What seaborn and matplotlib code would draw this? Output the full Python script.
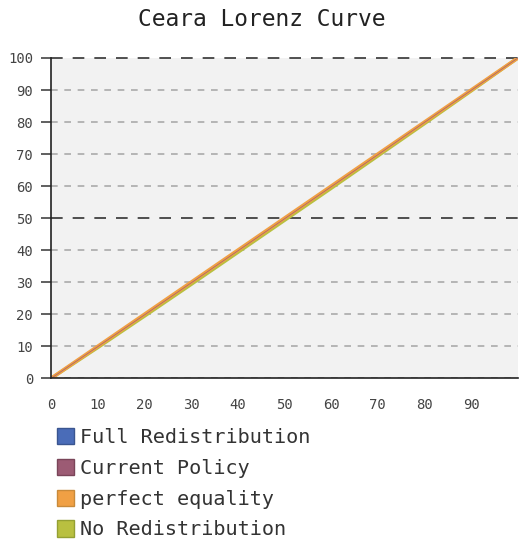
# Ceara Lorenz curve - recreated with seaborn
import pandas as pd
import matplotlib.pyplot as plt
import seaborn as sns
from matplotlib.patches import Patch

# ==========================================
# DATA
# ==========================================

population = [0, 10, 20, 30, 40, 50, 60, 70, 80, 90, 100]
full_redistribution = [0, 10, 20, 30, 40, 50, 60, 70, 80, 90, 100]
current_policy = [0, 9.9, 19.8, 29.8, 39.8, 49.8, 59.8, 69.8, 79.9, 89.9, 100]
perfect_equality = [0, 10, 20, 30, 40, 50, 60, 70, 80, 90, 100]
no_redistribution = [0, 9.6, 19.4, 29.3, 39.3, 49.3, 59.3, 69.4, 79.5, 89.7, 100]

series_names = ["Full Redistribution", "Current Policy", "perfect equality", "No Redistribution"]
series_colors = ["#4a6cb8", "#9c5b74", "#f0a044", "#b9c040"]
edge_colors = ["#3a5590", "#7a4559", "#c88a3a", "#94a033"]
y_ticks = [0, 10, 20, 30, 40, 50, 60, 70, 80, 90, 100]
x_ticks = [0, 10, 20, 30, 40, 50, 60, 70, 80, 90]

rows = []
for name, vals in zip(series_names, [full_redistribution, current_policy,
                                     perfect_equality, no_redistribution]):
    for x, y in zip(population, vals):
        rows.append({"population": x, "share": y, "series": name})
data = pd.DataFrame(rows)

# ==========================================
# PLOT
# ==========================================

sns.set_style("white")
plt.rcParams['font.family'] = ['DejaVu Sans Mono']

fig = plt.figure(figsize=(5.22, 5.42), dpi=100)
ax = fig.add_axes([0.098, 0.302, 0.894, 0.591])
ax.set_facecolor("#f2f2f2")

# grid lines
for y in y_ticks:
    if y in (50, 100):
        ax.axhline(y, color="#333333", lw=1.2, ls=(0, (7, 6)), zorder=1,
                   clip_on=False)
    else:
        ax.axhline(y, color="#aaaaaa", lw=1.2, ls=(0, (4, 4)), zorder=1)

# draw order: yellow under, orange, blue, purple thin on top
widths = {"No Redistribution": 2.4, "perfect equality": 2.6,
          "Full Redistribution": 1.0, "Current Policy": 0.6}
for name in ["No Redistribution", "Full Redistribution",
             "perfect equality", "Current Policy"]:
    sub = data[data["series"] == name]
    sns.lineplot(data=sub, x="population", y="share",
                 color=series_colors[series_names.index(name)],
                 linewidth=widths[name], ax=ax, zorder=3,
                 alpha=0.8 if name == "Current Policy" else 1)

ax.set_xlim(0, 100)
ax.set_ylim(0, 100)
ax.set_xticks(x_ticks)
ax.set_yticks(y_ticks)
ax.tick_params(axis="both", labelsize=10, colors="#444444", width=1.2,
               direction="out")
ax.tick_params(axis="y", left=True, length=7, pad=6)
ax.tick_params(axis="x", length=0, pad=14)
for val, tick in zip(y_ticks, ax.yaxis.get_major_ticks()):
    tick.tick1line.set_color("#222222" if val in (0, 50, 100) else "#aaaaaa")
ax.set_xlabel("")
ax.set_ylabel("")

for side in ["top", "right"]:
    ax.spines[side].set_visible(False)
for side in ["left", "bottom"]:
    ax.spines[side].set_color("#222222")
    ax.spines[side].set_linewidth(1.2)
    ax.spines[side].set_zorder(4)

fig.suptitle("Ceara Lorenz Curve", x=0.502, y=0.985, fontsize=16.5,
             color="#222222")

handles = [Patch(facecolor=c, edgecolor=e, linewidth=1)
           for c, e in zip(series_colors, edge_colors)]
fig.legend(handles, series_names, loc="upper left",
           bbox_to_anchor=(0.075, 0.243), frameon=False, fontsize=14.5,
           handlelength=0.85, handleheight=0.85, handletextpad=0.3,
           labelspacing=0.58, labelcolor="#333333")

plt.savefig("out.png", dpi=100)
